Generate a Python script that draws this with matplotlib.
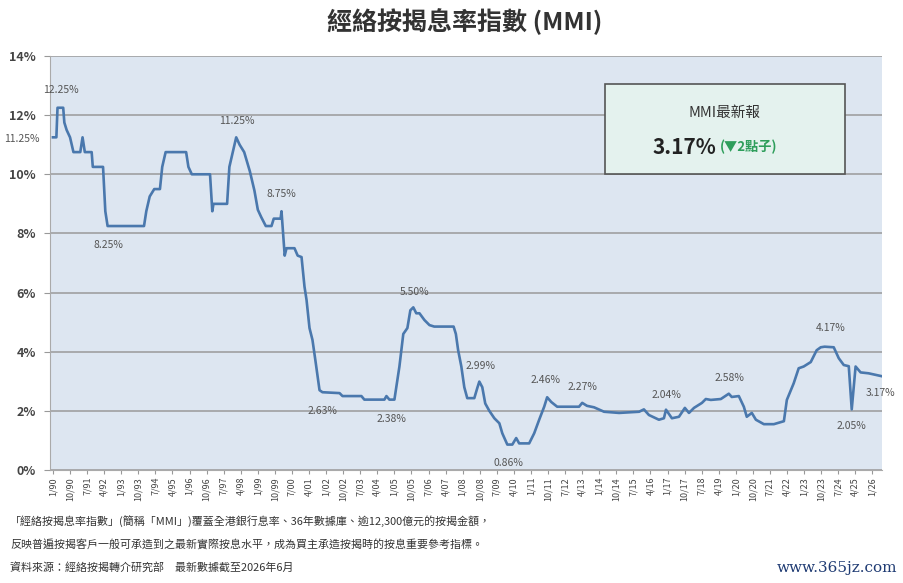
import matplotlib
matplotlib.use("Agg")
import matplotlib.pyplot as plt
from matplotlib.patches import Rectangle

plt.rcParams['font.family'] = ['Noto Sans CJK TC', 'DejaVu Sans']

# MMI breakpoints (decimal year, rate %)
dates = [1990.0, 1990.15, 1990.2, 1990.45, 1990.5, 1990.6, 1990.75, 1990.9, 1991.2, 1991.3,
         1991.4, 1991.7, 1991.75, 1992.2, 1992.3, 1992.4, 1994.0, 1994.1, 1994.25, 1994.45,
         1994.7, 1994.8, 1994.95, 1995.85, 1995.95, 1996.1, 1996.9, 1997.0, 1997.05, 1997.65,
         1997.75, 1997.9, 1998.05, 1998.2, 1998.4, 1998.65, 1998.85, 1999.0, 1999.15, 1999.35,
         1999.6, 1999.7, 2000.0, 2000.04, 2000.18, 2000.26, 2000.61, 2000.75, 2000.92, 2001.05,
         2001.14, 2001.27, 2001.4, 2001.53, 2001.71, 2001.84, 2002.59, 2002.72, 2003.55, 2003.68,
         2004.56, 2004.65, 2004.78, 2005.0, 2005.22, 2005.39, 2005.57, 2005.7, 2005.83, 2005.96,
         2006.1, 2006.32, 2006.54, 2006.75, 2007.6, 2007.7, 2007.8, 2007.94, 2008.07, 2008.2,
         2008.51, 2008.64, 2008.73, 2008.86, 2008.99, 2009.17, 2009.39, 2009.61, 2009.74, 2009.96,
         2010.18, 2010.35, 2010.48, 2010.92, 2011.14, 2011.36, 2011.58, 2011.71, 2011.89, 2012.15,
         2013.11, 2013.25, 2013.46, 2013.77, 2014.21, 2014.87, 2015.75, 2015.96, 2016.18, 2016.62,
         2016.84, 2016.93, 2017.19, 2017.5, 2017.76, 2017.94, 2018.16, 2018.51, 2018.68, 2018.9,
         2019.34, 2019.69, 2019.82, 2020.13, 2020.35, 2020.48, 2020.7, 2020.88, 2021.23, 2021.67,
         2021.97, 2022.11, 2022.24, 2022.54, 2022.76, 2022.98, 2023.29, 2023.55, 2023.73, 2023.9,
         2024.3, 2024.52, 2024.74, 2024.96, 2025.09, 2025.26, 2025.48, 2025.83, 2026.42]
rates = [11.25, 11.25, 12.25, 12.25, 11.75, 11.5, 11.25, 10.75, 10.75, 11.25,
         10.75, 10.75, 10.25, 10.25, 8.75, 8.25, 8.25, 8.75, 9.25, 9.5,
         9.5, 10.25, 10.75, 10.75, 10.25, 10.0, 10.0, 8.75, 9.0, 9.0,
         10.25, 10.75, 11.25, 11.0, 10.75, 10.1, 9.45, 8.8, 8.55, 8.25,
         8.25, 8.5, 8.5, 8.75, 7.25, 7.5, 7.5, 7.25, 7.2, 6.2,
         5.75, 4.8, 4.4, 3.7, 2.7, 2.63, 2.6, 2.5, 2.5, 2.38,
         2.38, 2.5, 2.38, 2.38, 3.5, 4.6, 4.8, 5.4, 5.5, 5.3,
         5.3, 5.07, 4.9, 4.85, 4.85, 4.6, 4.05, 3.5, 2.8, 2.43,
         2.43, 2.77, 2.99, 2.8, 2.25, 2.0, 1.75, 1.58, 1.24, 0.86,
         0.86, 1.08, 0.9, 0.9, 1.24, 1.7, 2.14, 2.46, 2.3, 2.14,
         2.14, 2.27, 2.17, 2.12, 1.97, 1.93, 1.97, 2.05, 1.86, 1.7,
         1.75, 2.04, 1.75, 1.8, 2.1, 1.93, 2.1, 2.27, 2.4, 2.37,
         2.4, 2.58, 2.47, 2.5, 2.14, 1.8, 1.93, 1.7, 1.55, 1.55,
         1.62, 1.65, 2.37, 2.93, 3.44, 3.5, 3.65, 4.05, 4.15, 4.17,
         4.15, 3.78, 3.55, 3.51, 2.05, 3.5, 3.3, 3.27, 3.17]

tick_labels = ['1/90', '10/90', '7/91', '4/92', '1/93', '10/93', '7/94', '4/95', '1/96', '10/96',
               '7/97', '4/98', '1/99', '10/99', '7/00', '4/01', '1/02', '10/02', '7/03', '4/04',
               '1/05', '10/05', '7/06', '4/07', '1/08', '10/08', '7/09', '4/10', '1/11', '10/11',
               '7/12', '4/13', '1/14', '10/14', '7/15', '4/16', '1/17', '10/17', '7/18', '4/19',
               '1/20', '10/20', '7/21', '4/22', '1/23', '10/23', '7/24', '4/25', '1/26']

# labelled points: (date, rate, dx px, dy px)
ann_dates = [1990.25, 1990.0, 1998.05, 1992.45, 2000.04, 2001.84, 2004.78, 2005.83, 2008.73,
             2009.98, 2011.71, 2013.25, 2016.93, 2019.69, 2023.9, 2025.09, 2026.42]
ann_rates = [12.25, 11.25, 11.25, 8.25, 8.75, 2.63, 2.38, 5.50, 2.99,
             0.86, 2.46, 2.27, 2.04, 2.58, 4.17, 2.05, 3.17]
ann_dx = [2, -31, 1, 0, 0, 0, 2, 1, 1, 1, -2, 0, 1, 1, 6, 0, -2]
ann_dy = [18, -2, 16, -19, 17, -19, -19, 15, 16, -18, 17, 16, 15, 16, 19, -17, -17]

title = '經絡按揭息率指數 (MMI)'
notes = ['「經絡按揭息率指數」(簡稱「MMI」)覆蓋全港銀行息率、36年數據庫、逾12,300億元的按揭金額，',
         '反映普遍按揭客戶一般可承造到之最新實際按息水平，成為買主承造按揭時的按息重要參考指標。',
         '資料來源：經絡按揭轉介研究部　最新數據截至2026年6月']

W, H = 904, 583
fig = plt.figure(figsize=(W / 100, H / 100), dpi=100, facecolor='white')
ax = fig.add_axes([50 / W, 1 - 470 / H, (882 - 50) / W, (470 - 56) / H])
ax.set_facecolor('#dde6f1')

ax.plot(dates, rates, color='#4a78ad', lw=1.9, solid_joinstyle='round', zorder=3)

ax.set_xlim(dates[0] - 0.13, dates[-1])
ax.set_ylim(0, 14)
ax.set_yticks(range(0, 15, 2))
ax.set_yticklabels([f'{v}%' for v in range(0, 15, 2)], fontsize=9, color='#444', fontweight='bold')
ax.yaxis.grid(True, color='#9a9a9a', lw=1.1)
ax.set_axisbelow(True)

tick_pos = [2000 + int(t.split('/')[1]) - (100 if int(t.split('/')[1]) > 50 else 0)
            + (int(t.split('/')[0]) - 1) / 12 for t in tick_labels]
ax.set_xticks(tick_pos)
ax.set_xticklabels(tick_labels, rotation=90, fontsize=6.5, color='#444')
ax.tick_params(axis='x', length=3, color='#999', pad=2)
ax.tick_params(axis='y', length=4, color='#999', pad=6)

for s in ['top', 'right']:
    ax.spines[s].set_visible(False)
for s in ['left', 'bottom']:
    ax.spines[s].set_color('#aaaaaa')

for d, r, dx, dy in zip(ann_dates, ann_rates, ann_dx, ann_dy):
    ax.annotate(f'{r:.2f}%', (d, r), xytext=(dx, dy), textcoords='offset pixels',
                ha='center', va='center', fontsize=7.5, color='#555', annotation_clip=False)

fig.text(465 / W, 1 - 22 / H, title, ha='center', va='center', fontsize=18,
         fontweight='bold', color='#333')

# latest reading box
fig.patches.append(Rectangle((605 / W, 1 - 174 / H), 240 / W, 90 / H, transform=fig.transFigure,
                             facecolor='#e4f2ee', edgecolor='#555', lw=1.2, zorder=5))
fig.text(725 / W, 1 - 113 / H, 'MMI最新報', ha='center', va='center', fontsize=10.5,
         color='#333', fontweight='medium', zorder=6)
fig.text(716 / W, 1 - 147 / H, '3.17%', ha='right', va='center', fontsize=15,
         color='#222', fontweight='bold', zorder=6)
fig.text(720 / W, 1 - 147 / H, '(▼2點子)', ha='left', va='center', fontsize=9.5,
         color='#2e9e5b', fontweight='bold', zorder=6)

for i, line in enumerate(notes):
    fig.text(10 / W, 1 - (521 + 23 * i) / H, line, ha='left', va='center', fontsize=7.9,
             color='#333')

fig.text(897 / W, 1 - 568 / H, 'www.365jz.com', ha='right', va='center', fontsize=11,
         family='DejaVu Serif', color='#1f3b73')

fig.savefig('out.png', dpi=100, facecolor='white')
